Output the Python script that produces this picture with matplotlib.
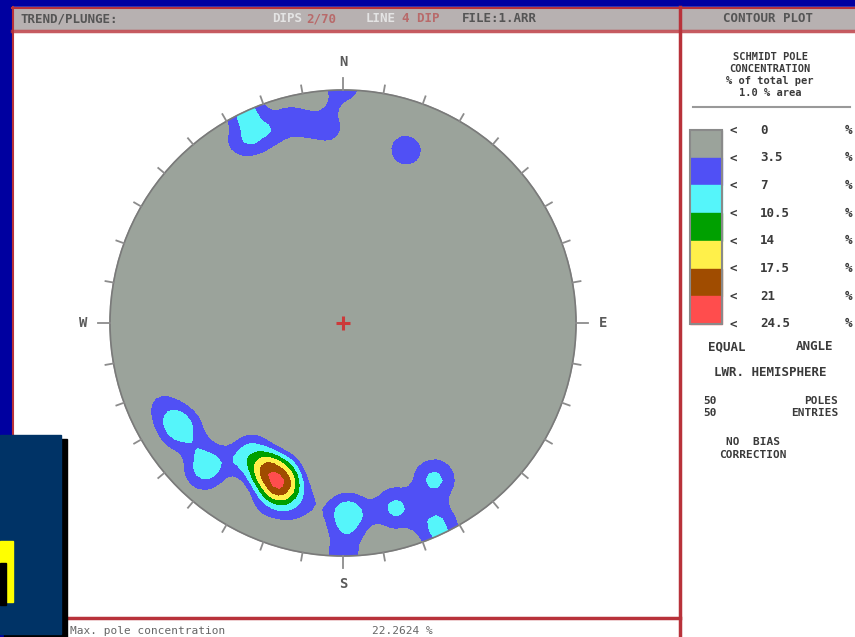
import numpy as np
import matplotlib
matplotlib.use('Agg')
import matplotlib.pyplot as plt
from matplotlib.patches import Rectangle, Circle

trend = [203.0, 201.6, 204.2, 203.0, 201.5, 204.8, 205.7, 201.6,        # main cluster
         195.4, 199.0, 204.6, 214.9, 214.9, 214.6, 212.0, 194.1,
         225.0, 222.3, 225.0, 222.7,                                     # SW 1
         237.3, 235.5, 235.8, 241.7, 246.1,                              # SW 2
         178.2, 176.4, 177.4, 182.4,                                     # S group
         164.7, 163.0, 164.3,
         150.4, 148.8, 150.5,
         156.1, 154.7, 154.8,
         181.3, 178.5,                                                   # rim, S
         335.0, 336.0, 334.8, 327.2, 344.9, 345.1, 353.8, 356.1,         # N group
         18.1, 22.0]                                                     # NE
plunge = [18.0, 17.5, 18.2, 19.7, 18.9, 20.4, 19.0, 15.7,
          15.4, 10.6, 10.2, 20.3, 17.9, 22.2, 19.7, 13.2,
          9.7, 9.8, 11.8, 5.7,
          10.9, 11.4, 9.5, 9.7, 8.7,
          11.6, 11.5, 9.8, 11.3,
          11.7, 11.2, 9.8,
          15.2, 14.2, 13.1,
          2.8, 2.1, 3.8,
          1.0, 0.7,
          4.6, 6.2, 7.5, 6.4, 4.8, 8.2, 8.1, 10.6,
          13.4, 13.4]

levels = [0, 3.5, 7, 10.5, 14, 17.5, 21, 24.5]
level_labels = ['0', '3.5', '7', '10.5', '14', '17.5', '21', '24.5']
fill_colors = ['#9ba39b', '#5050f5', '#55f5fa', '#00a000', '#fff04a', '#a04c00', '#ff4d4d']

# equal angle projection, antipodes so poles near the rim count on both sides
t = np.radians(trend)
p = np.radians(plunge)
r = np.tan((np.pi / 2 - p) / 2)
x = r * np.sin(t)
y = r * np.cos(t)
xs = np.concatenate([x, -x / r**2])
ys = np.concatenate([y, -y / r**2])

# smoothed counting: biweight kernel scaled to a 1 % counting area
h = 0.15
g = np.arange(-1.1, 1.1001, 0.025)
gx, gy = np.meshgrid(g, g)
u2 = ((gx[..., None] - xs)**2 + (gy[..., None] - ys)**2) / h**2
w = np.where(u2 < 1, (1 - u2)**2, 0) * 0.03 / h**2
dens = w.sum(-1) / len(trend) * 100

fig = plt.figure(figsize=(8.55, 6.37), dpi=100, facecolor='#0000a0')

# screen frame, pixel coords
bg = fig.add_axes([0, 0, 1, 1])
bg.set_xlim(0, 855)
bg.set_ylim(637, 0)
bg.axis('off')
red = '#b8323a'
bg.add_patch(Rectangle((13, 7), 667, 630, color='white'))
bg.add_patch(Rectangle((681, 7), 174, 630, color='white'))
bg.add_patch(Rectangle((14, 9), 664, 20, color='#b7b1b1'))
bg.add_patch(Rectangle((682, 9), 173, 20, color='#b7b1b1'))
bg.plot([12, 855], [7.5, 7.5], color=red, lw=1.5)
bg.plot([12, 855], [30.5, 30.5], color=red, lw=2.5, alpha=0.8)
bg.plot([13, 13], [7, 637], color=red, lw=1.5)
bg.plot([680, 680], [7, 637], color=red, lw=2.5)
bg.plot([13, 680], [618, 618], color=red, lw=2.5)

mono = dict(family='DejaVu Sans Mono', fontweight='bold', fontsize=9, va='center')
bg.text(20, 19, 'TREND/PLUNGE:', color='#555555', ha='left', **mono)
bg.text(272, 19, 'DIPS', color='#e4e4e4', ha='left', **mono)
bg.text(306, 19, '2/70', color='#b86a6a', ha='left', **mono)
bg.text(366, 19, 'LINE', color='#e4e4e4', ha='left', **mono)
bg.text(402, 19, '4 DIP', color='#b86a6a', ha='left', **mono)
bg.text(462, 19, 'FILE:1.ARR', color='#555555', ha='left', **mono)
bg.text(768, 19, 'CONTOUR PLOT', color='#555555', ha='center', **mono)

txt = '#3a3a3a'
small = dict(mono, fontsize=8)
for yy, s in zip([57, 69, 81, 93], ['SCHMIDT POLE', 'CONCENTRATION', '% of total per', '1.0 % area']):
    bg.text(770, yy, s, color=txt, ha='center', **dict(mono, fontsize=7.5))
bg.plot([693, 850], [107, 107], color='#999999', lw=1.5)

step = 27.7
y0 = 130
for i, c in enumerate(fill_colors):
    bg.add_patch(Rectangle((690, y0 + i * step), 32, step, color=c))
bg.add_patch(Rectangle((690, y0), 32, step * 7, fill=False, ec='#8a8a8a', lw=1.5))
for i, s in enumerate(level_labels):
    yy = y0 + i * step
    bg.text(733, yy, '<', color=txt, ha='center', **mono)
    bg.text(760, yy, s, color=txt, ha='left', **mono)
    bg.text(848, yy, '%', color=txt, ha='center', **mono)

bg.text(727, 347, 'EQUAL', color=txt, ha='center', **mono)
bg.text(815, 347, 'ANGLE', color=txt, ha='center', **mono)
bg.text(770, 372, 'LWR. HEMISPHERE', color=txt, ha='center', **mono)
bg.text(710, 401, str(len(trend)), color=txt, ha='center', **small)
bg.text(838, 401, 'POLES', color=txt, ha='right', **small)
bg.text(710, 413, str(len(trend)), color=txt, ha='center', **small)
bg.text(838, 413, 'ENTRIES', color=txt, ha='right', **small)
bg.text(753, 442, 'NO  BIAS', color=txt, ha='center', **small)
bg.text(753, 455, 'CORRECTION', color=txt, ha='center', **small)

bg.text(70, 631, 'Max. pole concentration', color='#666666', ha='left',
        family='DejaVu Sans Mono', fontsize=8, va='center')
bg.text(372, 631, '%.4f %%' % dens.max(), color='#666666', ha='left',
        family='DejaVu Sans Mono', fontsize=8, va='center')

# stereonet
R = 233.0
half = 1.25 * R
ax = fig.add_axes([(343 - half) / 855, (637 - 323 - half) / 637, 2 * half / 855, 2 * half / 637])
ax.set_xlim(-1.25, 1.25)
ax.set_ylim(-1.25, 1.25)
ax.set_aspect('equal')
ax.axis('off')
ax.patch.set_alpha(0)

ax.add_patch(Circle((0, 0), 1, color=fill_colors[0], zorder=1))
clip = Circle((0, 0), 1, transform=ax.transData)
cs = ax.contourf(gx, gy, dens, levels=levels, colors=fill_colors + [fill_colors[-1]],
                 extend='max', zorder=2)
cs.set_clip_path(clip)
ax.add_patch(Circle((0, 0), 1, fill=False, ec='#7a7a7a', lw=1.2, zorder=3))

for az in range(0, 360, 10):
    a = np.radians(az)
    r2 = 1.05 if az % 90 == 0 else 1.035
    ax.plot([np.sin(a), r2 * np.sin(a)], [np.cos(a), r2 * np.cos(a)],
            color='#8c8c8c', lw=1.3, zorder=3)

lab = dict(family='DejaVu Sans Mono', fontweight='bold', fontsize=10,
           color='#5a5a5a', ha='center', va='center')
ax.text(0, 1.12, 'N', **lab)
ax.text(0, -1.12, 'S', **lab)
ax.text(-1.115, 0, 'W', **lab)
ax.text(1.115, 0, 'E', **lab)
ax.plot(0, 0, marker='+', ms=10, mew=2.2, color='#cc3a3a', zorder=4)

# overlay inset at lower left
ov = fig.add_axes([0, 0, 1, 1])
ov.set_xlim(0, 855)
ov.set_ylim(637, 0)
ov.axis('off')
ov.patch.set_alpha(0)
ov.add_patch(Rectangle((4, 439), 63, 198, color='black'))
ov.add_patch(Rectangle((0, 435), 61, 199, color='#003366'))
ov.add_patch(Rectangle((0, 541), 13, 61, color='#ffff00'))
ov.add_patch(Rectangle((0, 563), 6, 42, color='black'))

fig.savefig('out.png', dpi=100)
